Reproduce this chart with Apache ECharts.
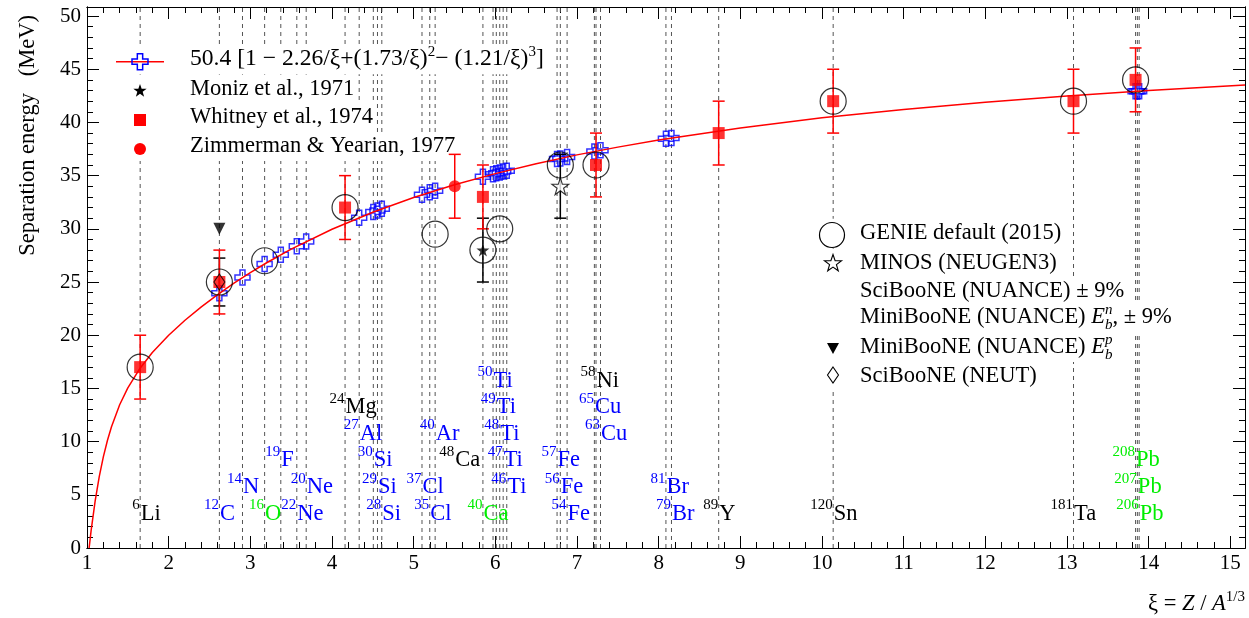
<!DOCTYPE html>
<html><head><meta charset="utf-8">
<script src="https://cdn.jsdelivr.net/npm/echarts@6/dist/echarts.min.js"></script>
<style>html,body{margin:0;padding:0;background:#fff}#c{width:1249px;height:618px}</style>
</head><body><div id="c"></div>
<script>
// ---------------- data ----------------
const X_MIN = 1, X_MAX = 15.18, Y_MIN = 0, Y_MAX = 50.85;
const xTicks = [1,2,3,4,5,6,7,8,9,10,11,12,13,14,15];
const yTicks = [0,5,10,15,20,25,30,35,40,45,50];

// parametrisation curve
const curveXi = [1.026,1.05,1.1,1.15,1.2,1.25,1.3,1.4,1.5,1.65,1.8,2.0,2.2,2.4,2.6,2.8,3.0,3.2,3.5,4.0,4.5,5.0,5.5,6.0,6.5,7.0,7.5,8,9,10,11,12,13,14,15.18];
const curveE  = [0,1.61,4.43,6.70,8.56,10.10,11.40,13.46,15.05,16.90,18.37,20.00,21.41,22.67,23.82,24.89,25.89,26.81,28.09,29.96,31.56,32.94,34.14,35.19,36.12,36.95,37.68,38.34,39.48,40.43,41.22,41.90,42.49,43.00,43.52];

// open blue crosses
const crossXi = [2.621,2.904,3.175,3.373,3.569,3.684,4.333,4.506,4.557,4.610,5.102,5.197,5.263,5.848,5.972,6.012,6.054,6.096,6.140,6.756,6.796,6.879,7.213,7.288,8.089,8.157,13.840,13.862,13.884];
const crossE  = [23.94,25.42,26.70,27.56,28.36,28.81,31.05,31.58,31.72,31.88,33.20,33.43,33.59,34.89,35.14,35.22,35.30,35.38,35.46,36.56,36.62,36.76,37.27,37.38,38.46,38.54,42.92,42.93,42.94];

// Whitney et al., 1974 (red squares)
const whitneyXi  = [1.651,2.621,4.160,5.848,7.233,8.735,10.137,13.08,13.840];
const whitneyE   = [17,25,32,33,36,39,42,42,44];
const whitneyErr = [3,3,3,3,3,3,3,3,3];
// Zimmerman & Yearian, 1977 (red circle)
const zimXi = [5.503], zimE = [34], zimErr = [3];
// Moniz et al., 1971 (filled star)
const monizXi = [5.848], monizE = [28], monizErr = [3];
// GENIE default (2015) (open circles)
const genieXi = [1.651,2.621,3.175,4.160,5.263,5.848,6.054,6.796,7.233,10.137,13.08,13.840];
const genieE  = [17,25,27,32,29.5,28,30,36,36,42,42,44];
// MINOS (NEUGEN3) (open star)
const minosXi = [6.796], minosE = [34], minosErr = [3];
// SciBooNE (NUANCE) +-9%
const sciNuXi = [2.621], sciNuE = [25], sciNuErr = [2.25];
// MiniBooNE (NUANCE) Eb^p (filled down triangle)
const miniPXi = [2.621], miniPE = [30];
// SciBooNE (NEUT) (open diamond)
const sciNeutXi = [2.621], sciNeutE = [25];

// nucleus labels (xi, label row value, mass number, symbol)
const blackXi  = [1.651,4.160,5.503,7.233,8.735,10.137,13.08];
const blackRow = [2.5,12.5,7.5,15,2.5,2.5,2.5];
const blackA   = ['6','24','48','58','89','120','181'];
const blackSym = ['Li','Mg','Ca','Ni','Y','Sn','Ta'];

const blueXi  = [2.621,2.904,3.373,3.684,3.569,4.333,4.506,4.557,4.610,5.102,5.197,5.263,5.972,6.012,6.054,6.096,6.140,6.756,6.796,6.879,7.213,7.288,8.089,8.157];
const blueRow = [2.5,5,7.5,5,2.5,10,7.5,5,2.5,5,2.5,10,15,12.5,10,7.5,5,7.5,5,2.5,12.5,10,5,2.5];
const blueA   = ['12','14','19','20','22','27','30','29','28','37','35','40','50','49','48','47','46','57','56','54','65','63','81','79'];
const blueSym = ['C','N','F','Ne','Ne','Al','Si','Si','Si','Cl','Cl','Ar','Ti','Ti','Ti','Ti','Ti','Fe','Fe','Fe','Cu','Cu','Br','Br'];

const greenXi  = [3.175,5.848,13.840,13.862,13.884];
const greenRow = [2.5,2.5,7.5,5,2.5];
const greenA   = ['16','40','208','207','206'];
const greenSym = ['O','Ca','Pb','Pb','Pb'];

// vertical dashed guide lines
const guideXi = [1.651,2.621,2.904,3.175,3.373,3.569,3.684,4.160,4.333,4.506,4.557,4.610,5.102,5.197,5.263,5.848,5.972,6.012,6.054,6.096,6.140,6.756,6.796,6.879,7.213,7.233,7.288,8.089,8.157,8.735,10.137,13.08,13.840,13.862,13.884];

// ---------------- helpers ----------------
const FAM = '"Liberation Serif","Times New Roman",serif';
const fontOf = (size, it) => (it ? 'italic ' : '') + size + 'px ' + FAM;
const cv = document.createElement('canvas').getContext('2d');
function tw(t, f){ cv.font = f; return cv.measureText(t).width; }
const zip = (a, b) => a.map((v, i) => [v, b[i]]);

function composite(segs, x, baseline, color, z, base) {
  let cx = x, prevX = x; const els = [];
  segs.forEach(s => {
    const size = s.size || base || 22.5, f = fontOf(size, s.it);
    const sx = s.stack ? prevX : cx;
    const w = tw(s.t, f);
    els.push({type:'text', x:sx, y:baseline + (s.dy||0) - 0.34*size, z:z||60, silent:true,
      style:{text:s.t, font:f, fill:color||'#000', align:'left', verticalAlign:'middle'}});
    prevX = sx; cx = Math.max(cx, sx + w);
  });
  return {els, end: cx};
}
function starPts(cx, cy, R){
  const p=[]; for(let k=0;k<10;k++){const r=k%2?R*0.4:R; const a=-Math.PI/2+k*Math.PI/5; p.push([cx+r*Math.cos(a), cy+r*Math.sin(a)]);} return p;
}
function crossPts(cx, cy, s){
  const h=s/2, t=s/6;
  return [[cx-t,cy-h],[cx+t,cy-h],[cx+t,cy-t],[cx+h,cy-t],[cx+h,cy+t],[cx+t,cy+t],[cx+t,cy+h],[cx-t,cy+h],[cx-t,cy+t],[cx-h,cy+t],[cx-h,cy-t],[cx-t,cy-t]];
}

// ---------------- graphics (legends, titles) ----------------
const G = [];
function legendRow(segs, x, baseline, bgLeft, base) {
  const r = composite(segs, x, baseline, '#000', 60, base);
  G.push({type:'rect', shape:{x:bgLeft, y:baseline-22, width:r.end+3-bgLeft, height:29}, style:{fill:'#fff'}, z:5, silent:true});
  r.els.forEach(e => G.push(e));
}
// top-left legend
const L1 = [67.3, 96.7, 125, 154];
legendRow([{t:'50.4 [1 − 2.26/ξ+(1.73/ξ)'},{t:'2',size:15,dy:-10},{t:'− (1.21/ξ)'},{t:'3',size:15,dy:-10},{t:']'}], 190, L1[0], 103, 23.6);
legendRow([{t:'Moniz et al., 1971'}], 190, L1[1], 103);
legendRow([{t:'Whitney et al., 1974'}], 190, L1[2], 103);
legendRow([{t:'Zimmerman & Yearian, 1977'}], 190, L1[3], 103);
G.push({type:'line', shape:{x1:116,y1:61.7,x2:164,y2:61.7}, style:{stroke:'#ff0000', lineWidth:1.5}, z:61});
G.push({type:'polygon', shape:{points:crossPts(140,61.7,16)}, style:{fill:'none', stroke:'#0000ff', lineWidth:1.5}, z:62});
G.push({type:'polygon', shape:{points:starPts(140,91,7)}, style:{fill:'#000'}, z:62});
G.push({type:'rect', shape:{x:134,y:114,width:12,height:12}, style:{fill:'#ff0000'}, z:62});
G.push({type:'circle', shape:{cx:140,cy:149,r:6}, style:{fill:'#ff0000'}, z:62});

// right legend
const L2 = [240.7, 270.7, 298.3, 325, 355, 383.3];
legendRow([{t:'GENIE default (2015)'}], 860, L2[0], 815);
legendRow([{t:'MINOS (NEUGEN3)'}], 860, L2[1], 815);
legendRow([{t:'SciBooNE (NUANCE) ± 9%'}], 860, L2[2], 815);
legendRow([{t:'MiniBooNE (NUANCE) '},{t:'E',it:true},{t:'b',it:true,size:15,dy:5},{t:'n',it:true,size:15,dy:-10,stack:true},{t:', ± 9%'}], 860, L2[3], 815);
legendRow([{t:'MiniBooNE (NUANCE) '},{t:'E',it:true},{t:'b',it:true,size:15,dy:5},{t:'p',it:true,size:15,dy:-10,stack:true}], 860, L2[4], 815);
legendRow([{t:'SciBooNE (NEUT)'}], 860, L2[5], 815);
G.push({type:'circle', shape:{cx:832,cy:235,r:12.5}, style:{fill:'none', stroke:'#000', lineWidth:1.2}, z:62});
G.push({type:'polygon', shape:{points:starPts(833,263.5,9)}, style:{fill:'none', stroke:'#000', lineWidth:1.1}, z:62});
G.push({type:'polygon', shape:{points:[[827,343],[839,343],[833,354]]}, style:{fill:'#000'}, z:62});
G.push({type:'polygon', shape:{points:[[833,367],[838.5,375],[833,383],[827.5,375]]}, style:{fill:'none', stroke:'#000', lineWidth:1.1}, z:62});

// axis titles
(function(){
  const segs = [{t:'ξ = '},{t:'Z',it:true},{t:' / '},{t:'A',it:true},{t:'1/3',size:15,dy:-10}];
  const tmp = composite(segs, 0, 0);
  const r = composite(segs, 1245 - tmp.end, 612, '#000', 60);
  r.els.forEach(e => G.push(e));
})();
G.push({type:'text', x:28, y:15, rotation:Math.PI/2, z:60, silent:true,
  style:{text:'Separation energy   (MeV)', font:fontOf(22.5), fill:'#000', align:'right', verticalAlign:'middle'}});

// ---------------- chart ----------------
const axisCommon = {type:'value', splitLine:{show:false}, axisLine:{onZero:false, lineStyle:{color:'#000', width:1}}};
function xAx(pos, interval, len, labels){
  return Object.assign({}, axisCommon, {min:X_MIN, max:X_MAX, interval, position:pos, gridIndex:0,
    axisTick:{inside:true, length:len, lineStyle:{color:'#000'}},
    axisLabel:{show:labels, fontFamily:FAM, fontSize:21, color:'#000', margin:5, showMaxLabel:false}});
}
function yAx(pos, interval, len, labels){
  return Object.assign({}, axisCommon, {min:Y_MIN, max:Y_MAX, interval, position:pos, gridIndex:0,
    axisTick:{inside:true, length:len, lineStyle:{color:'#000'}},
    axisLabel:{show:labels, fontFamily:FAM, fontSize:21, color:'#000', margin:6, showMaxLabel:false}});
}

function errBar(color){
  return function(params, api){
    const x = api.value(0), lo = api.value(1), hi = api.value(2);
    const a = api.coord([x, lo]), b = api.coord([x, hi]);
    const st = {stroke:color, lineWidth:1.5};
    return {type:'group', children:[
      {type:'line', shape:{x1:a[0],y1:a[1],x2:b[0],y2:b[1]}, style:st},
      {type:'line', shape:{x1:a[0]-6,y1:a[1],x2:a[0]+6,y2:a[1]}, style:st},
      {type:'line', shape:{x1:b[0]-6,y1:b[1],x2:b[0]+6,y2:b[1]}, style:st}]};
  };
}
const ebData = (xs, es, errs) => xs.map((x, i) => [x, es[i]-errs[i], es[i]+errs[i]]);

function labelSeries(xs, rows, as, syms, color){
  return {type:'custom', z:8, silent:true,
    data: xs.map((x, i) => [x, rows[i]]),
    renderItem(params, api){
      const i = params.dataIndex;
      const p = api.coord([api.value(0), api.value(1)]);
      return {type:'group', children:[
        {type:'text', x:p[0]+0.5, y:p[1]-0.34*22.5, style:{text:syms[i], font:fontOf(22.5), fill:color, align:'left', verticalAlign:'middle'}},
        {type:'text', x:p[0]-0.5, y:p[1]-11-0.34*15, style:{text:as[i], font:fontOf(15), fill:color, align:'right', verticalAlign:'middle'}}
      ]};
    }};
}

const CROSS = 'path://M1,0H2V1H3V2H2V3H1V2H0V1H1Z';
const STAR = 'path://M50,0L61.8,36.3L100,36.3L69.1,58.8L80.9,95.1L50,72.7L19.1,95.1L30.9,58.8L0,36.3L38.2,36.3Z';

const option = {
  animation:false,
  backgroundColor:'#fff',
  grid:{left:87, right:4, top:7, bottom:70, containLabel:false},
  xAxis:[xAx('bottom',1,12,true), xAx('bottom',0.2,6,false), xAx('top',1,12,false), xAx('top',0.2,6,false)],
  yAxis:[yAx('left',5,12,true), yAx('left',1,6,false), yAx('right',5,12,false), yAx('right',1,6,false)],
  graphic:{elements:G},
  series:[
    {type:'custom', z:1, silent:true, data:guideXi.map(x => [x]),
      renderItem(params, api){
        const x = api.value(0);
        const a = api.coord([x, Y_MIN]), b = api.coord([x, Y_MAX]);
        return {type:'line', shape:{x1:a[0],y1:a[1],x2:b[0],y2:b[1]}, style:{stroke:'#555', lineWidth:1, lineDash:[4,4]}};
      }},
    labelSeries(blackXi, blackRow, blackA, blackSym, '#000'),
    labelSeries(blueXi, blueRow, blueA, blueSym, '#0000ff'),
    labelSeries(greenXi, greenRow, greenA, greenSym, '#00ee00'),
    {type:'scatter', z:10, data:zip(crossXi, crossE), symbol:CROSS, symbolSize:15,
      itemStyle:{color:'rgba(0,0,0,0)', borderColor:'#0000ff', borderWidth:1.5}},
    {type:'line', z:11, data:zip(curveXi, curveE), showSymbol:false, smooth:false, lineStyle:{color:'#ff0000', width:1.5}},
    {type:'custom', z:12, data:ebData(sciNuXi, sciNuE, sciNuErr), renderItem:errBar('#000')},
    {type:'custom', z:12, data:ebData(monizXi, monizE, monizErr), renderItem:errBar('#000')},
    {type:'custom', z:12, data:ebData(minosXi, minosE, minosErr), renderItem:errBar('#000')},
    {type:'custom', z:13, data:ebData(whitneyXi, whitneyE, whitneyErr), renderItem:errBar('#ff0000')},
    {type:'custom', z:13, data:ebData(zimXi, zimE, zimErr), renderItem:errBar('#ff0000')},
    {type:'scatter', z:14, data:zip(whitneyXi, whitneyE), symbol:'rect', symbolSize:12, itemStyle:{color:'#ff0000'}},
    {type:'scatter', z:14, data:zip(zimXi, zimE), symbol:'circle', symbolSize:12, itemStyle:{color:'#ff0000'}},
    {type:'scatter', z:15, data:zip(monizXi, monizE), symbol:STAR, symbolSize:13, itemStyle:{color:'#000'}},
    {type:'scatter', z:15, data:zip(minosXi, minosE), symbol:STAR, symbolSize:17, itemStyle:{color:'#fff', borderColor:'#000', borderWidth:1.1}},
    {type:'scatter', z:15, data:zip(miniPXi, miniPE), symbol:'triangle', symbolRotate:180, symbolSize:12, itemStyle:{color:'#000'}},
    {type:'scatter', z:15, data:zip(sciNeutXi, sciNeutE), symbol:'diamond', symbolSize:[11,16], itemStyle:{color:'rgba(0,0,0,0)', borderColor:'#000', borderWidth:1.1}},
    {type:'scatter', z:16, data:zip(genieXi, genieE), symbol:'circle', symbolSize:26, itemStyle:{color:'rgba(0,0,0,0)', borderColor:'#000', borderWidth:1.2}}
  ]
};
echarts.init(document.getElementById('c'), null, {renderer:'canvas'}).setOption(option);
</script>
</body></html>
